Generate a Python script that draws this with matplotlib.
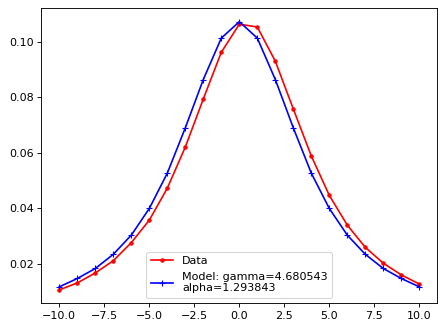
import numpy as np
import matplotlib
matplotlib.use("Agg")
import matplotlib.pyplot as plt

x = np.arange(-10, 11)
data_y = [0.0107, 0.0132, 0.0168, 0.0212, 0.0277, 0.0358, 0.0473, 0.0621, 0.0794, 0.0962,
          0.1063, 0.1053, 0.0930, 0.0758, 0.0589, 0.0447, 0.0340, 0.0260, 0.0203, 0.0161, 0.0128]
model_y = [0.0118, 0.0148, 0.0184, 0.0235, 0.0304, 0.0400, 0.0527, 0.0690, 0.0864, 0.1013,
           0.1072, 0.1013, 0.0864, 0.0690, 0.0527, 0.0400, 0.0304, 0.0235, 0.0184, 0.0148, 0.0118]
gamma = 4.680543
alpha = 1.293843

W, H, DPI = 445, 329, 80
fig = plt.figure(figsize=(W / DPI, H / DPI), dpi=DPI)
ax = fig.add_axes([41.3 / W, 1 - 303.3 / H, 396 / W, 295 / H])

ax.plot(x, data_y, 'r.-', label='Data')
ax.plot(x, model_y, 'b+-', label='Model: gamma=%f\nalpha=%f' % (gamma, alpha))
ax.legend(loc='lower center')

fig.savefig('out.png', dpi=DPI)
